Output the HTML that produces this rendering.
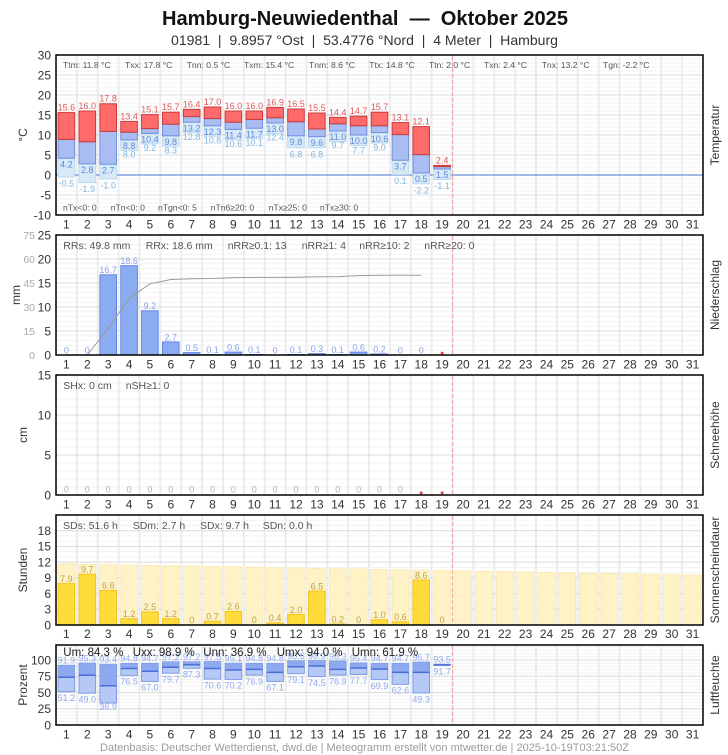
<!DOCTYPE html>
<html><head><meta charset="utf-8"><style>
html,body{margin:0;padding:0;background:#fff;width:728px;height:755px;overflow:hidden;}
svg{display:block;font-family:"Liberation Sans",Arial,sans-serif;}
.ax{font-size:12px;fill:#333;}
.ax2{font-size:10.5px;fill:#aaa;}
.st{font-size:8.6px;fill:#555;}
.st2{font-size:10.5px;fill:#555;}
.st3{font-size:11.5px;fill:#222;}
.rd{fill:#ff6b6b;stroke:#c83a3a;stroke-width:1;}
.bl{fill:#a9bdf3;stroke:#6f8fe0;stroke-width:1;}
.lb{fill:#d5e9f7;stroke:#bcdaf0;stroke-width:1;}
.pr{fill:#8cacf2;stroke:#5f84e6;stroke-width:1;}
.sb{fill:#fff2c6;stroke:#fbeab0;stroke-width:1;}
.sy{fill:#ffdc3a;stroke:#f2c41c;stroke-width:1;}
.hu{fill:#b6c9f6;stroke:#7b9be8;stroke-width:1;}
.hd{fill:#8ea9ef;}
.hm{stroke:#4a70d8;stroke-width:1.5;}
.mj{stroke:#dcdcdc;stroke-width:1;}
.bd{fill:none;stroke:#000;stroke-width:1.5;}
.rl{stroke:#f2a3a3;stroke-width:1;stroke-dasharray:4 2;}
.lv{font-size:9px;}
.ttl{font-size:12px;fill:#333;}
</style></head><body>
<svg width="728" height="755" viewBox="0 0 728 755">
<defs>
<pattern id="vg" x="55" y="0" width="20.871" height="20" patternUnits="userSpaceOnUse"><rect width="2" height="20" fill="#ececec"/></pattern>
<pattern id="hT" x="0" y="54.5" width="10" height="4" patternUnits="userSpaceOnUse"><rect width="10" height="1" fill="#f3f3f3"/></pattern>
<pattern id="hP" x="0" y="234.5" width="10" height="4.8" patternUnits="userSpaceOnUse"><rect width="10" height="1" fill="#f3f3f3"/></pattern>
<pattern id="hS" x="0" y="374.5" width="10" height="8" patternUnits="userSpaceOnUse"><rect width="10" height="1" fill="#f3f3f3"/></pattern>
<pattern id="hN" x="0" y="514.5" width="10" height="5.238" patternUnits="userSpaceOnUse"><rect width="10" height="1" fill="#f3f3f3"/></pattern>
<pattern id="hU" x="0" y="724.5" width="10" height="3.25" patternUnits="userSpaceOnUse"><rect width="10" height="1" fill="#f3f3f3"/></pattern>
</defs>

<!-- Title -->
<text x="365" y="25" text-anchor="middle" font-size="20" font-weight="bold" fill="#111" textLength="406" lengthAdjust="spacingAndGlyphs">Hamburg-Neuwiedenthal&#160;&#160;—&#160;&#160;Oktober 2025</text>
<text x="364.5" y="45" text-anchor="middle" font-size="14" fill="#333" textLength="387" lengthAdjust="spacingAndGlyphs">01981&#160;&#160;|&#160;&#160;9.8957 °Ost&#160;&#160;|&#160;&#160;53.4776 °Nord&#160;&#160;|&#160;&#160;4 Meter&#160;&#160;|&#160;&#160;Hamburg</text>

<!-- ============ TEMPERATURE ============ -->
<rect x="56" y="55" width="647" height="160" fill="url(#hT)"/>
<rect x="56" y="55" width="647" height="160" fill="url(#vg)"/>
<g class="mj"><line x1="56" x2="703" y1="75" y2="75"/><line x1="56" x2="703" y1="95" y2="95"/><line x1="56" x2="703" y1="115" y2="115"/><line x1="56" x2="703" y1="135" y2="135"/><line x1="56" x2="703" y1="155" y2="155"/><line x1="56" x2="703" y1="195" y2="195"/></g>
<line x1="56" x2="703" y1="175" y2="175" stroke="#6a8fd8" stroke-width="1.3"/>
<g>
<rect class="lb" x="58.1" y="158.2" width="16.6" height="18.8"/><rect class="bl" x="58.1" y="139.4" width="16.6" height="18.8"/><rect class="rd" x="58.1" y="112.6" width="16.6" height="26.8"/>
<rect class="lb" x="79.0" y="163.8" width="16.6" height="18.8"/><rect class="bl" x="79.0" y="141.8" width="16.6" height="22.0"/><rect class="rd" x="79.0" y="111.0" width="16.6" height="30.8"/>
<rect class="lb" x="99.9" y="164.2" width="16.6" height="14.8"/><rect class="bl" x="99.9" y="131.4" width="16.6" height="32.8"/><rect class="rd" x="99.9" y="103.8" width="16.6" height="27.6"/>
<rect class="lb" x="120.8" y="139.8" width="16.6" height="10.5"/><rect class="bl" x="120.8" y="132.2" width="16.6" height="7.6"/><rect class="rd" x="120.8" y="121.4" width="16.6" height="10.8"/>
<rect class="lb" x="141.6" y="133.4" width="16.6" height="10.5"/><rect class="bl" x="141.6" y="128.6" width="16.6" height="4.8"/><rect class="rd" x="141.6" y="114.6" width="16.6" height="14.0"/>
<rect class="lb" x="162.5" y="135.8" width="16.6" height="10.5"/><rect class="bl" x="162.5" y="124.2" width="16.6" height="11.6"/><rect class="rd" x="162.5" y="112.2" width="16.6" height="12.0"/>
<rect class="lb" x="183.4" y="122.2" width="16.6" height="10.5"/><rect class="bl" x="183.4" y="116.6" width="16.6" height="5.6"/><rect class="rd" x="183.4" y="109.4" width="16.6" height="7.2"/>
<rect class="lb" x="204.2" y="125.8" width="16.6" height="10.5"/><rect class="bl" x="204.2" y="118.6" width="16.6" height="7.2"/><rect class="rd" x="204.2" y="107.0" width="16.6" height="11.6"/>
<rect class="lb" x="225.1" y="129.4" width="16.6" height="10.5"/><rect class="bl" x="225.1" y="122.2" width="16.6" height="7.2"/><rect class="rd" x="225.1" y="111.0" width="16.6" height="11.2"/>
<rect class="lb" x="246.0" y="128.2" width="16.6" height="10.5"/><rect class="bl" x="246.0" y="119.4" width="16.6" height="8.8"/><rect class="rd" x="246.0" y="111.0" width="16.6" height="8.4"/>
<rect class="lb" x="266.8" y="123.0" width="16.6" height="10.5"/><rect class="bl" x="266.8" y="117.8" width="16.6" height="5.2"/><rect class="rd" x="266.8" y="107.4" width="16.6" height="10.4"/>
<rect class="lb" x="287.7" y="135.8" width="16.6" height="12.0"/><rect class="bl" x="287.7" y="121.8" width="16.6" height="14.0"/><rect class="rd" x="287.7" y="109.0" width="16.6" height="12.8"/>
<rect class="lb" x="308.6" y="136.6" width="16.6" height="11.2"/><rect class="bl" x="308.6" y="129.0" width="16.6" height="7.6"/><rect class="rd" x="308.6" y="113.0" width="16.6" height="16.0"/>
<rect class="lb" x="329.5" y="131.0" width="16.6" height="10.5"/><rect class="bl" x="329.5" y="123.8" width="16.6" height="7.2"/><rect class="rd" x="329.5" y="117.4" width="16.6" height="6.4"/>
<rect class="lb" x="350.3" y="135.0" width="16.6" height="10.5"/><rect class="bl" x="350.3" y="125.8" width="16.6" height="9.2"/><rect class="rd" x="350.3" y="116.2" width="16.6" height="9.6"/>
<rect class="lb" x="371.2" y="132.6" width="16.6" height="10.5"/><rect class="bl" x="371.2" y="125.8" width="16.6" height="6.8"/><rect class="rd" x="371.2" y="112.2" width="16.6" height="13.6"/>
<rect class="lb" x="392.1" y="160.2" width="16.6" height="14.4"/><rect class="bl" x="392.1" y="134.6" width="16.6" height="25.6"/><rect class="rd" x="392.1" y="122.6" width="16.6" height="12.0"/>
<rect class="lb" x="412.9" y="173.0" width="16.6" height="10.8"/><rect class="bl" x="412.9" y="154.6" width="16.6" height="18.4"/><rect class="rd" x="412.9" y="126.6" width="16.6" height="28.0"/>
<rect class="lb" x="433.8" y="169.0" width="16.6" height="10.5"/><rect class="bl" x="433.8" y="166.6" width="16.6" height="2.4"/><rect class="rd" x="433.8" y="165.4" width="16.6" height="1.2"/>
</g>
<g class="lv" text-anchor="middle" fill="#e05a5a">
<text x="66.4" y="110.5">15.6</text><text x="87.3" y="108.9">16.0</text><text x="108.2" y="101.7">17.8</text><text x="129.1" y="119.3">13.4</text><text x="149.9" y="112.5">15.1</text><text x="170.8" y="110.1">15.7</text><text x="191.7" y="107.3">16.4</text><text x="212.5" y="104.9">17.0</text><text x="233.4" y="108.9">16.0</text><text x="254.3" y="108.9">16.0</text><text x="275.1" y="105.3">16.9</text><text x="296.0" y="106.9">16.5</text><text x="316.9" y="110.9">15.5</text><text x="337.8" y="115.3">14.4</text><text x="358.6" y="114.1">14.7</text><text x="379.5" y="110.1">15.7</text><text x="400.4" y="120.5">13.1</text><text x="421.2" y="124.5">12.1</text><text x="442.1" y="163.3">2.4</text>
</g>
<g class="lv" text-anchor="middle" fill="#6487de">
<text x="66.4" y="167.4">4.2</text><text x="87.3" y="173.0">2.8</text><text x="108.2" y="173.4">2.7</text><text x="129.1" y="149.0">8.8</text><text x="149.9" y="142.6">10.4</text><text x="170.8" y="145.0">9.8</text><text x="191.7" y="131.4">13.2</text><text x="212.5" y="135.0">12.3</text><text x="233.4" y="138.6">11.4</text><text x="254.3" y="137.4">11.7</text><text x="275.1" y="132.2">13.0</text><text x="296.0" y="145.0">9.8</text><text x="316.9" y="145.8">9.6</text><text x="337.8" y="140.2">11.0</text><text x="358.6" y="144.2">10.0</text><text x="379.5" y="141.8">10.6</text><text x="400.4" y="169.4">3.7</text><text x="421.2" y="182.2">0.5</text><text x="442.1" y="178.2">1.5</text>
</g>
<g class="lv" text-anchor="middle" fill="#82b8e2">
<text x="66.4" y="186.5">-0.5</text><text x="87.3" y="192.1">-1.9</text><text x="108.2" y="188.5">-1.0</text><text x="129.1" y="157.5">8.0</text><text x="149.9" y="151.1">9.2</text><text x="170.8" y="153.5">8.3</text><text x="191.7" y="139.9">12.8</text><text x="212.5" y="143.5">10.8</text><text x="233.4" y="147.1">10.6</text><text x="254.3" y="145.9">10.1</text><text x="275.1" y="140.7">12.4</text><text x="296.0" y="157.3">6.8</text><text x="316.9" y="157.3">6.8</text><text x="337.8" y="148.7">9.7</text><text x="358.6" y="153.7">7.7</text><text x="379.5" y="150.3">9.0</text><text x="400.4" y="184.1">0.1</text><text x="421.2" y="193.3">-2.2</text><text x="442.1" y="188.9">-1.1</text>
</g>
<line class="rl" x1="452.55" x2="452.55" y1="56" y2="214"/>
<g class="st">
<text x="63" y="68.2">Ttm: 11.8 °C</text><text x="125" y="68.2">Txx: 17.8 °C</text><text x="186.7" y="68.2">Tnn: 0.5 °C</text><text x="244" y="68.2">Txm: 15.4 °C</text><text x="309" y="68.2">Tnm: 8.6 °C</text><text x="369.3" y="68.2">Ttx: 14.8 °C</text><text x="429" y="68.2">Ttn: 2.0 °C</text><text x="484" y="68.2">Txn: 2.4 °C</text><text x="541.7" y="68.2">Tnx: 13.2 °C</text><text x="603" y="68.2">Tgn: -2.2 °C</text>
<text x="63" y="210.5">nTx&lt;0: 0</text><text x="110.7" y="210.5">nTn&lt;0: 0</text><text x="158" y="210.5">nTgn&lt;0: 5</text><text x="210.7" y="210.5">nTn6≥20: 0</text><text x="268.7" y="210.5">nTx≥25: 0</text><text x="320" y="210.5">nTx≥30: 0</text>
</g>
<rect class="bd" x="56" y="55" width="647" height="160"/>
<g class="ax" text-anchor="end">
<text x="51" y="59.3">30</text><text x="51" y="79.3">25</text><text x="51" y="99.3">20</text><text x="51" y="119.3">15</text><text x="51" y="139.3">10</text><text x="51" y="159.3">5</text><text x="51" y="179.3">0</text><text x="51" y="199.3">-5</text><text x="51" y="219.3">-10</text>
</g>
<text class="ax" x="23" y="135" font-size="13" text-anchor="middle" dominant-baseline="central" transform="rotate(-90 23 135)">°C</text>
<text class="ttl" x="715" y="135" text-anchor="middle" dominant-baseline="central" transform="rotate(-90 715 135)">Temperatur</text>
<text class="ax" y="228.3" text-anchor="middle"><tspan x="66.4">1</tspan><tspan x="87.3">2</tspan><tspan x="108.2">3</tspan><tspan x="129.1">4</tspan><tspan x="149.9">5</tspan><tspan x="170.8">6</tspan><tspan x="191.7">7</tspan><tspan x="212.5">8</tspan><tspan x="233.4">9</tspan><tspan x="254.3">10</tspan><tspan x="275.1">11</tspan><tspan x="296.0">12</tspan><tspan x="316.9">13</tspan><tspan x="337.8">14</tspan><tspan x="358.6">15</tspan><tspan x="379.5">16</tspan><tspan x="400.4">17</tspan><tspan x="421.2">18</tspan><tspan x="442.1">19</tspan><tspan x="463.0">20</tspan><tspan x="483.9">21</tspan><tspan x="504.7">22</tspan><tspan x="525.6">23</tspan><tspan x="546.5">24</tspan><tspan x="567.3">25</tspan><tspan x="588.2">26</tspan><tspan x="609.1">27</tspan><tspan x="630.0">28</tspan><tspan x="650.8">29</tspan><tspan x="671.7">30</tspan><tspan x="692.6">31</tspan></text>

<!-- ============ PRECIPITATION ============ -->
<rect x="56" y="235" width="647" height="120" fill="url(#hP)"/>
<rect x="56" y="235" width="647" height="120" fill="url(#vg)"/>
<g class="mj"><line x1="56" x2="703" y1="259" y2="259"/><line x1="56" x2="703" y1="283" y2="283"/><line x1="56" x2="703" y1="307" y2="307"/><line x1="56" x2="703" y1="331" y2="331"/></g>
<g class="pr">
<rect x="99.9" y="274.8" width="16.6" height="80.2"/><rect x="120.8" y="265.7" width="16.6" height="89.3"/><rect x="141.6" y="310.8" width="16.6" height="44.2"/><rect x="162.5" y="342.0" width="16.6" height="13.0"/><rect x="183.4" y="352.6" width="16.6" height="2.4"/><rect x="204.2" y="354.5" width="16.6" height="0.5"/><rect x="225.1" y="352.1" width="16.6" height="2.9"/><rect x="246.0" y="354.5" width="16.6" height="0.5"/><rect x="287.7" y="354.5" width="16.6" height="0.5"/><rect x="308.6" y="353.6" width="16.6" height="1.4"/><rect x="329.5" y="354.5" width="16.6" height="0.5"/><rect x="350.3" y="352.1" width="16.6" height="2.9"/><rect x="371.2" y="354.0" width="16.6" height="1.0"/>
</g>
<polyline fill="none" stroke="#9a9a9a" stroke-width="1" points="56,355 87.3,355 108.2,328.3 129.1,298.5 149.9,283.8 170.8,279.5 191.7,278.7 212.5,278.5 233.4,277.6 254.3,277.4 275.1,277.4 296.0,277.2 316.9,276.8 337.8,276.6 358.6,275.6 379.5,275.3 400.4,275.3 421.2,275.3"/>
<g class="lv" text-anchor="middle" fill="#86a3ee">
<text x="66.4" y="353.3">0</text><text x="87.3" y="353.3">0</text><text x="108.2" y="273.1">16.7</text><text x="129.1" y="264.0">18.6</text><text x="149.9" y="309.1">9.2</text><text x="170.8" y="340.3">2.7</text><text x="191.7" y="350.9">0.5</text><text x="212.5" y="352.8">0.1</text><text x="233.4" y="350.4">0.6</text><text x="254.3" y="352.8">0.1</text><text x="275.1" y="353.3">0</text><text x="296.0" y="352.8">0.1</text><text x="316.9" y="351.9">0.3</text><text x="337.8" y="352.8">0.1</text><text x="358.6" y="350.4">0.6</text><text x="379.5" y="352.3">0.2</text><text x="400.4" y="353.3">0</text><text x="421.2" y="353.3">0</text>
</g>
<rect x="440.8" y="351.8" width="2.6" height="2.6" fill="#e33"/>
<line class="rl" x1="452.55" x2="452.55" y1="236" y2="354"/>
<g class="st2">
<text x="63.3" y="249">RRs: 49.8 mm</text><text x="145.7" y="249">RRx: 18.6 mm</text><text x="227.7" y="249">nRR≥0.1: 13</text><text x="301.7" y="249">nRR≥1: 4</text><text x="359.3" y="249">nRR≥10: 2</text><text x="424.3" y="249">nRR≥20: 0</text>
</g>
<rect class="bd" x="56" y="235" width="647" height="120"/>
<g class="ax" text-anchor="end">
<text x="51" y="239.3">25</text><text x="51" y="263.3">20</text><text x="51" y="287.3">15</text><text x="51" y="311.3">10</text><text x="51" y="335.3">5</text><text x="51" y="359.3">0</text>
</g>
<g class="ax2" text-anchor="end">
<text x="35" y="239">75</text><text x="35" y="263">60</text><text x="35" y="287">45</text><text x="35" y="311">30</text><text x="35" y="335">15</text><text x="35" y="359">0</text>
</g>
<text class="ax" x="16" y="295" font-size="13" text-anchor="middle" dominant-baseline="central" transform="rotate(-90 16 295)">mm</text>
<text class="ttl" x="715" y="295" text-anchor="middle" dominant-baseline="central" transform="rotate(-90 715 295)">Niederschlag</text>
<text class="ax" y="368.3" text-anchor="middle"><tspan x="66.4">1</tspan><tspan x="87.3">2</tspan><tspan x="108.2">3</tspan><tspan x="129.1">4</tspan><tspan x="149.9">5</tspan><tspan x="170.8">6</tspan><tspan x="191.7">7</tspan><tspan x="212.5">8</tspan><tspan x="233.4">9</tspan><tspan x="254.3">10</tspan><tspan x="275.1">11</tspan><tspan x="296.0">12</tspan><tspan x="316.9">13</tspan><tspan x="337.8">14</tspan><tspan x="358.6">15</tspan><tspan x="379.5">16</tspan><tspan x="400.4">17</tspan><tspan x="421.2">18</tspan><tspan x="442.1">19</tspan><tspan x="463.0">20</tspan><tspan x="483.9">21</tspan><tspan x="504.7">22</tspan><tspan x="525.6">23</tspan><tspan x="546.5">24</tspan><tspan x="567.3">25</tspan><tspan x="588.2">26</tspan><tspan x="609.1">27</tspan><tspan x="630.0">28</tspan><tspan x="650.8">29</tspan><tspan x="671.7">30</tspan><tspan x="692.6">31</tspan></text>

<!-- ============ SNOW ============ -->
<rect x="56" y="375" width="647" height="120" fill="url(#hS)"/>
<rect x="56" y="375" width="647" height="120" fill="url(#vg)"/>
<g class="mj"><line x1="56" x2="703" y1="415" y2="415"/><line x1="56" x2="703" y1="455" y2="455"/></g>
<g class="lv" text-anchor="middle" fill="#b0b0b0">
<text x="66.4" y="492.6">0</text><text x="87.3" y="492.6">0</text><text x="108.2" y="492.6">0</text><text x="129.1" y="492.6">0</text><text x="149.9" y="492.6">0</text><text x="170.8" y="492.6">0</text><text x="191.7" y="492.6">0</text><text x="212.5" y="492.6">0</text><text x="233.4" y="492.6">0</text><text x="254.3" y="492.6">0</text><text x="275.1" y="492.6">0</text><text x="296.0" y="492.6">0</text><text x="316.9" y="492.6">0</text><text x="337.8" y="492.6">0</text><text x="358.6" y="492.6">0</text><text x="379.5" y="492.6">0</text><text x="400.4" y="492.6">0</text>
</g>
<rect x="419.9" y="491.6" width="2.6" height="2.6" fill="#e33"/>
<rect x="440.8" y="491.6" width="2.6" height="2.6" fill="#e33"/>
<line class="rl" x1="452.55" x2="452.55" y1="376" y2="494"/>
<g class="st2">
<text x="63.3" y="389">SHx: 0 cm</text><text x="125.7" y="389">nSH≥1: 0</text>
</g>
<rect class="bd" x="56" y="375" width="647" height="120"/>
<g class="ax" text-anchor="end">
<text x="51" y="379.3">15</text><text x="51" y="419.3">10</text><text x="51" y="459.3">5</text><text x="51" y="499.3">0</text>
</g>
<text class="ax" x="23" y="435" font-size="13" text-anchor="middle" dominant-baseline="central" transform="rotate(-90 23 435)">cm</text>
<text class="ttl" x="715" y="435" text-anchor="middle" dominant-baseline="central" transform="rotate(-90 715 435)">Schneehöhe</text>
<text class="ax" y="508.3" text-anchor="middle"><tspan x="66.4">1</tspan><tspan x="87.3">2</tspan><tspan x="108.2">3</tspan><tspan x="129.1">4</tspan><tspan x="149.9">5</tspan><tspan x="170.8">6</tspan><tspan x="191.7">7</tspan><tspan x="212.5">8</tspan><tspan x="233.4">9</tspan><tspan x="254.3">10</tspan><tspan x="275.1">11</tspan><tspan x="296.0">12</tspan><tspan x="316.9">13</tspan><tspan x="337.8">14</tspan><tspan x="358.6">15</tspan><tspan x="379.5">16</tspan><tspan x="400.4">17</tspan><tspan x="421.2">18</tspan><tspan x="442.1">19</tspan><tspan x="463.0">20</tspan><tspan x="483.9">21</tspan><tspan x="504.7">22</tspan><tspan x="525.6">23</tspan><tspan x="546.5">24</tspan><tspan x="567.3">25</tspan><tspan x="588.2">26</tspan><tspan x="609.1">27</tspan><tspan x="630.0">28</tspan><tspan x="650.8">29</tspan><tspan x="671.7">30</tspan><tspan x="692.6">31</tspan></text>

<!-- ============ SUNSHINE ============ -->
<rect x="56" y="515" width="647" height="110" fill="url(#hN)"/>
<rect x="56" y="515" width="647" height="110" fill="url(#vg)"/>
<g class="mj"><line x1="56" x2="703" y1="530.7" y2="530.7"/><line x1="56" x2="703" y1="546.4" y2="546.4"/><line x1="56" x2="703" y1="562.1" y2="562.1"/><line x1="56" x2="703" y1="577.9" y2="577.9"/><line x1="56" x2="703" y1="593.6" y2="593.6"/><line x1="56" x2="703" y1="609.3" y2="609.3"/></g>
<g class="sb">
<rect x="58.1" y="564.0" width="16.6" height="61.0"/><rect x="79.0" y="564.4" width="16.6" height="60.6"/><rect x="99.9" y="564.7" width="16.6" height="60.3"/><rect x="120.8" y="565.1" width="16.6" height="59.9"/><rect x="141.6" y="565.5" width="16.6" height="59.5"/><rect x="162.5" y="565.8" width="16.6" height="59.2"/><rect x="183.4" y="566.2" width="16.6" height="58.8"/><rect x="204.2" y="566.6" width="16.6" height="58.4"/><rect x="225.1" y="566.9" width="16.6" height="58.1"/><rect x="246.0" y="567.3" width="16.6" height="57.7"/><rect x="266.8" y="567.7" width="16.6" height="57.3"/><rect x="287.7" y="568.0" width="16.6" height="57.0"/><rect x="308.6" y="568.4" width="16.6" height="56.6"/><rect x="329.5" y="568.8" width="16.6" height="56.2"/><rect x="350.3" y="569.1" width="16.6" height="55.9"/><rect x="371.2" y="569.5" width="16.6" height="55.5"/><rect x="392.1" y="569.9" width="16.6" height="55.1"/><rect x="412.9" y="570.2" width="16.6" height="54.8"/><rect x="433.8" y="570.6" width="16.6" height="54.4"/><rect x="454.7" y="571.0" width="16.6" height="54.0"/><rect x="475.6" y="571.3" width="16.6" height="53.7"/><rect x="496.4" y="571.7" width="16.6" height="53.3"/><rect x="517.3" y="572.1" width="16.6" height="52.9"/><rect x="538.2" y="572.4" width="16.6" height="52.6"/><rect x="559.0" y="572.8" width="16.6" height="52.2"/><rect x="579.9" y="573.2" width="16.6" height="51.8"/><rect x="600.8" y="573.5" width="16.6" height="51.5"/><rect x="621.7" y="573.9" width="16.6" height="51.1"/><rect x="642.5" y="574.3" width="16.6" height="50.7"/><rect x="663.4" y="574.6" width="16.6" height="50.4"/><rect x="684.3" y="575.0" width="16.6" height="50.0"/>
</g>
<g class="sy">
<rect x="58.1" y="583.6" width="16.6" height="41.4"/><rect x="79.0" y="574.2" width="16.6" height="50.8"/><rect x="99.9" y="590.4" width="16.6" height="34.6"/><rect x="120.8" y="618.7" width="16.6" height="6.3"/><rect x="141.6" y="611.9" width="16.6" height="13.1"/><rect x="162.5" y="618.7" width="16.6" height="6.3"/><rect x="204.2" y="621.3" width="16.6" height="3.7"/><rect x="225.1" y="611.4" width="16.6" height="13.6"/><rect x="266.8" y="622.9" width="16.6" height="2.1"/><rect x="287.7" y="614.5" width="16.6" height="10.5"/><rect x="308.6" y="591.0" width="16.6" height="34.0"/><rect x="329.5" y="624.0" width="16.6" height="1.0"/><rect x="371.2" y="619.8" width="16.6" height="5.2"/><rect x="392.1" y="621.9" width="16.6" height="3.1"/><rect x="412.9" y="580.0" width="16.6" height="45.0"/>
</g>
<g class="lv" text-anchor="middle" fill="#bba14f">
<text x="66.4" y="581.9">7.9</text><text x="87.3" y="572.5">9.7</text><text x="108.2" y="588.7">6.6</text><text x="129.1" y="617.0">1.2</text><text x="149.9" y="610.2">2.5</text><text x="170.8" y="617.0">1.2</text><text x="191.7" y="623.0">0</text><text x="212.5" y="619.6">0.7</text><text x="233.4" y="609.7">2.6</text><text x="254.3" y="623.0">0</text><text x="275.1" y="621.2">0.4</text><text x="296.0" y="612.8">2.0</text><text x="316.9" y="589.3">6.5</text><text x="337.8" y="622.3">0.2</text><text x="358.6" y="623.0">0</text><text x="379.5" y="618.1">1.0</text><text x="400.4" y="620.2">0.6</text><text x="421.2" y="578.3">8.6</text><text x="442.1" y="623.0">0</text>
</g>
<line class="rl" x1="452.55" x2="452.55" y1="516" y2="624"/>
<g class="st2">
<text x="63" y="529">SDs: 51.6 h</text><text x="132.7" y="529">SDm: 2.7 h</text><text x="200" y="529">SDx: 9.7 h</text><text x="262.7" y="529">SDn: 0.0 h</text>
</g>
<rect class="bd" x="56" y="515" width="647" height="110"/>
<g class="ax" text-anchor="end">
<text x="51" y="535">18</text><text x="51" y="550.7">15</text><text x="51" y="566.4">12</text><text x="51" y="582.2">9</text><text x="51" y="597.9">6</text><text x="51" y="613.6">3</text><text x="51" y="629.3">0</text>
</g>
<text class="ax" x="23" y="570" font-size="13" text-anchor="middle" dominant-baseline="central" transform="rotate(-90 23 570)">Stunden</text>
<text class="ttl" x="715" y="570" text-anchor="middle" dominant-baseline="central" transform="rotate(-90 715 570)">Sonnenscheindauer</text>
<text class="ax" y="638" text-anchor="middle"><tspan x="66.4">1</tspan><tspan x="87.3">2</tspan><tspan x="108.2">3</tspan><tspan x="129.1">4</tspan><tspan x="149.9">5</tspan><tspan x="170.8">6</tspan><tspan x="191.7">7</tspan><tspan x="212.5">8</tspan><tspan x="233.4">9</tspan><tspan x="254.3">10</tspan><tspan x="275.1">11</tspan><tspan x="296.0">12</tspan><tspan x="316.9">13</tspan><tspan x="337.8">14</tspan><tspan x="358.6">15</tspan><tspan x="379.5">16</tspan><tspan x="400.4">17</tspan><tspan x="421.2">18</tspan><tspan x="442.1">19</tspan><tspan x="463.0">20</tspan><tspan x="483.9">21</tspan><tspan x="504.7">22</tspan><tspan x="525.6">23</tspan><tspan x="546.5">24</tspan><tspan x="567.3">25</tspan><tspan x="588.2">26</tspan><tspan x="609.1">27</tspan><tspan x="630.0">28</tspan><tspan x="650.8">29</tspan><tspan x="671.7">30</tspan><tspan x="692.6">31</tspan></text>

<!-- ============ HUMIDITY ============ -->
<rect x="56" y="645" width="647" height="80" fill="url(#hU)"/>
<rect x="56" y="645" width="647" height="80" fill="url(#vg)"/>
<g class="mj"><line x1="56" x2="703" y1="660" y2="660"/><line x1="56" x2="703" y1="676.25" y2="676.25"/><line x1="56" x2="703" y1="692.5" y2="692.5"/><line x1="56" x2="703" y1="708.75" y2="708.75"/></g>
<g>
<rect class="hu" x="58.1" y="665.3" width="16.6" height="26.4"/><rect class="hd" x="58.6" y="665.8" width="15.6" height="11.5"/><line class="hm" x1="58.1" x2="74.7" y1="677.3" y2="677.3"/>
<rect class="hu" x="79.0" y="663.1" width="16.6" height="30.1"/><rect class="hd" x="79.5" y="663.6" width="15.6" height="11.7"/><line class="hm" x1="79.0" x2="95.6" y1="675.3" y2="675.3"/>
<rect class="hu" x="99.9" y="664.3" width="16.6" height="38.7"/><rect class="hd" x="100.4" y="664.8" width="15.6" height="20.9"/><line class="hm" x1="99.9" x2="116.5" y1="685.7" y2="685.7"/>
<rect class="hu" x="120.8" y="663.4" width="16.6" height="11.9"/><rect class="hd" x="121.3" y="663.9" width="15.6" height="4.6"/><line class="hm" x1="120.8" x2="137.4" y1="668.5" y2="668.5"/>
<rect class="hu" x="141.6" y="663.4" width="16.6" height="18.0"/><rect class="hd" x="142.1" y="663.9" width="15.6" height="7.4"/><line class="hm" x1="141.6" x2="158.2" y1="671.3" y2="671.3"/>
<rect class="hu" x="162.5" y="661.8" width="16.6" height="11.4"/><rect class="hd" x="163.0" y="662.3" width="15.6" height="5.0"/><line class="hm" x1="162.5" x2="179.1" y1="667.3" y2="667.3"/>
<rect class="hu" x="183.4" y="661.8" width="16.6" height="6.5"/><rect class="hd" x="183.9" y="662.3" width="15.6" height="2.4"/><line class="hm" x1="183.4" x2="200.0" y1="664.7" y2="664.7"/>
<rect class="hu" x="204.2" y="661.6" width="16.6" height="17.5"/><rect class="hd" x="204.7" y="662.1" width="15.6" height="6.4"/><line class="hm" x1="204.2" x2="220.8" y1="668.5" y2="668.5"/>
<rect class="hu" x="225.1" y="663.2" width="16.6" height="16.2"/><rect class="hd" x="225.6" y="663.7" width="15.6" height="6.3"/><line class="hm" x1="225.1" x2="241.7" y1="670.0" y2="670.0"/>
<rect class="hu" x="246.0" y="663.4" width="16.6" height="11.6"/><rect class="hd" x="246.5" y="663.9" width="15.6" height="5.5"/><line class="hm" x1="246.0" x2="262.6" y1="669.4" y2="669.4"/>
<rect class="hu" x="266.8" y="663.4" width="16.6" height="18.0"/><rect class="hd" x="267.3" y="663.9" width="15.6" height="8.5"/><line class="hm" x1="266.8" x2="283.4" y1="672.4" y2="672.4"/>
<rect class="hu" x="287.7" y="660.9" width="16.6" height="12.7"/><rect class="hd" x="288.2" y="661.4" width="15.6" height="5.3"/><line class="hm" x1="287.7" x2="304.3" y1="666.7" y2="666.7"/>
<rect class="hu" x="308.6" y="660.7" width="16.6" height="15.9"/><rect class="hd" x="309.1" y="661.2" width="15.6" height="4.8"/><line class="hm" x1="308.6" x2="325.2" y1="666.0" y2="666.0"/>
<rect class="hu" x="329.5" y="661.1" width="16.6" height="13.9"/><rect class="hd" x="330.0" y="661.6" width="15.6" height="7.8"/><line class="hm" x1="329.5" x2="346.1" y1="669.4" y2="669.4"/>
<rect class="hu" x="350.3" y="663.0" width="16.6" height="11.5"/><rect class="hd" x="350.8" y="663.5" width="15.6" height="4.5"/><line class="hm" x1="350.3" x2="366.9" y1="668.0" y2="668.0"/>
<rect class="hu" x="371.2" y="663.4" width="16.6" height="16.2"/><rect class="hd" x="371.7" y="663.9" width="15.6" height="5.2"/><line class="hm" x1="371.2" x2="387.8" y1="669.1" y2="669.1"/>
<rect class="hu" x="392.1" y="663.4" width="16.6" height="20.9"/><rect class="hd" x="392.6" y="663.9" width="15.6" height="8.5"/><line class="hm" x1="392.1" x2="408.7" y1="672.4" y2="672.4"/>
<rect class="hu" x="412.9" y="662.1" width="16.6" height="30.9"/><rect class="hd" x="413.4" y="662.6" width="15.6" height="9.8"/><line class="hm" x1="412.9" x2="429.5" y1="672.4" y2="672.4"/>
<rect class="hu" x="433.8" y="664.2" width="16.6" height="1.2"/><line class="hm" x1="433.8" x2="450.4" y1="664.9" y2="664.9"/>
</g>
<g class="lv" text-anchor="middle" fill="#8eaaf0">
<text x="66.4" y="663.6">91.9</text><text x="87.3" y="661.4">95.3</text><text x="108.2" y="662.6">93.4</text><text x="129.1" y="661.7">94.8</text><text x="149.9" y="661.7">94.7</text><text x="170.8" y="660.1">97.2</text><text x="191.7" y="660.1">97.2</text><text x="212.5" y="659.9">97.5</text><text x="233.4" y="661.5">95.1</text><text x="254.3" y="661.7">94.8</text><text x="275.1" y="661.7">94.8</text><text x="296.0" y="659.2">98.6</text><text x="316.9" y="659.0">98.9</text><text x="337.8" y="659.4">98.3</text><text x="358.6" y="661.3">95.4</text><text x="379.5" y="661.7">94.7</text><text x="400.4" y="661.7">94.7</text><text x="421.2" y="660.4">96.7</text><text x="442.1" y="662.5">93.5</text>
<text x="66.4" y="701.0">51.2</text><text x="87.3" y="702.5">49.0</text><text x="108.2" y="710.0">36.9</text><text x="129.1" y="684.6">76.5</text><text x="149.9" y="690.7">67.0</text><text x="170.8" y="682.5">79.7</text><text x="191.7" y="677.6">87.3</text><text x="212.5" y="688.4">70.6</text><text x="233.4" y="688.7">70.2</text><text x="254.3" y="684.3">76.9</text><text x="275.1" y="690.7">67.1</text><text x="296.0" y="682.9">79.1</text><text x="316.9" y="685.9">74.5</text><text x="337.8" y="684.3">76.9</text><text x="358.6" y="683.8">77.7</text><text x="379.5" y="688.9">69.9</text><text x="400.4" y="693.6">62.6</text><text x="421.2" y="702.3">49.3</text><text x="442.1" y="674.7">91.7</text>
</g>
<line class="rl" x1="452.55" x2="452.55" y1="646" y2="724"/>
<g class="st3">
<text x="63.3" y="656">Um: 84.3 %</text><text x="132.7" y="656">Uxx: 98.9 %</text><text x="203.3" y="656">Unn: 36.9 %</text><text x="276.7" y="656">Umx: 94.0 %</text><text x="351.7" y="656">Umn: 61.9 %</text>
</g>
<rect class="bd" x="56" y="645" width="647" height="80"/>
<g class="ax" text-anchor="end">
<text x="51" y="664.3">100</text><text x="51" y="680.5">75</text><text x="51" y="696.8">50</text><text x="51" y="713">25</text><text x="51" y="729.3">0</text>
</g>
<text class="ax" x="23" y="685" font-size="13" text-anchor="middle" dominant-baseline="central" transform="rotate(-90 23 685)">Prozent</text>
<text class="ttl" x="715" y="685" text-anchor="middle" dominant-baseline="central" transform="rotate(-90 715 685)">Luftfeuchte</text>
<text class="ax" y="738.3" text-anchor="middle"><tspan x="66.4">1</tspan><tspan x="87.3">2</tspan><tspan x="108.2">3</tspan><tspan x="129.1">4</tspan><tspan x="149.9">5</tspan><tspan x="170.8">6</tspan><tspan x="191.7">7</tspan><tspan x="212.5">8</tspan><tspan x="233.4">9</tspan><tspan x="254.3">10</tspan><tspan x="275.1">11</tspan><tspan x="296.0">12</tspan><tspan x="316.9">13</tspan><tspan x="337.8">14</tspan><tspan x="358.6">15</tspan><tspan x="379.5">16</tspan><tspan x="400.4">17</tspan><tspan x="421.2">18</tspan><tspan x="442.1">19</tspan><tspan x="463.0">20</tspan><tspan x="483.9">21</tspan><tspan x="504.7">22</tspan><tspan x="525.6">23</tspan><tspan x="546.5">24</tspan><tspan x="567.3">25</tspan><tspan x="588.2">26</tspan><tspan x="609.1">27</tspan><tspan x="630.0">28</tspan><tspan x="650.8">29</tspan><tspan x="671.7">30</tspan><tspan x="692.6">31</tspan></text>

<!-- Footer -->
<text x="364.5" y="750.8" text-anchor="middle" font-size="11" fill="#9a9a9a" textLength="529" lengthAdjust="spacingAndGlyphs">Datenbasis: Deutscher Wetterdienst, dwd.de | Meteogramm erstellt von mtwetter.de | 2025-10-19T03:21:50Z</text>
</svg>
</body></html>
